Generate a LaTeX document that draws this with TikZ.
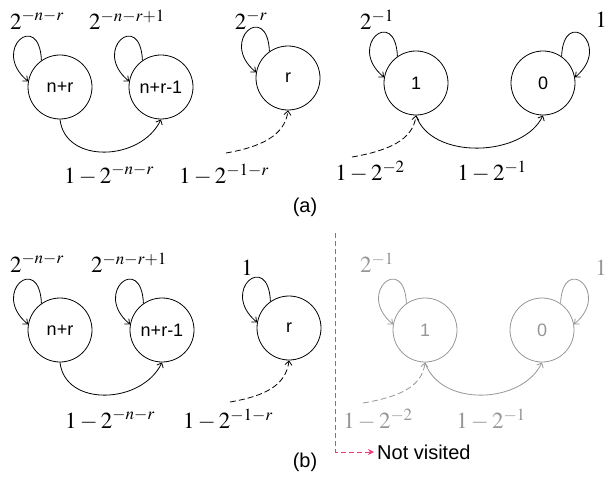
\documentclass[tikz,border=0pt]{standalone}
\usepackage{mathptmx}
\usepackage[no-math]{fontspec}
\setmainfont{Liberation Sans}
\usetikzlibrary{arrows.meta}
\definecolor{pinkred}{RGB}{236,60,125}
\definecolor{fadegray}{RGB}{150,150,150}
\tikzset{
  state/.style={circle,draw,minimum size=64pt,inner sep=0pt,line width=0.8pt,font=\fontsize{18}{20}\selectfont},
  lbl/.style={inner sep=0pt,font=\fontsize{23}{27}\selectfont},
  captxt/.style={inner sep=0pt,font=\fontsize{20}{24}\selectfont},
  edge/.style={-{Straight Barb[length=4pt,width=7pt]},line width=0.8pt},
  dsh/.style={dash pattern=on 6pt off 3pt},
  faded/.style={draw=fadegray,text=fadegray},
  pinkline/.style={draw=pinkred,dash pattern=on 5pt off 3pt,line width=1pt,-{Stealth[length=6pt,width=6pt]}}
}
\begin{document}
\begin{tikzpicture}[x=1pt,y=-1pt]
\useasboundingbox (0,0) rectangle (607,481);
% ---------- (a) ----------
\node[state] (A1) at (60,87) {n+r};
\node[state] (A2) at (161,87) {n+r-1};
\node[state] (A3) at (288,78) {r};
\node[state] (A4) at (416,83) {1};
\node[state] (A5) at (543,83) {0};
\node[lbl] (la1) at (37,20) {$2^{-n-r}$};
\node[lbl] (la2) at (127,20) {$2^{-n-r+1}$};
\node[lbl] (la3) at (251,20) {$2^{-r}$};
\node[lbl] (la4) at (377,20) {$2^{-1}$};
\node[lbl] (la5) at (601,20) {$1$};
\node[lbl] (la6) at (109,175) {$1-2^{-n-r}$};
\node[lbl] (la7) at (224,175) {$1-2^{-1-r}$};
\node[lbl] (la8) at (370,172) {$1-2^{-2}$};
\node[lbl] (la9) at (492,172) {$1-2^{-1}$};
\node[captxt] (capa) at (305,207) {(a)};
\coordinate (da1) at (226,153);
\coordinate (da2) at (352,157);
\draw[edge] (A1.125) .. controls +(-2,-51) and +(-38,-32) .. (A1.170);
\draw[edge] (A2.125) .. controls +(-2,-51) and +(-38,-32) .. (A2.170);
\draw[edge] (A3.125) .. controls +(-2,-51) and +(-38,-32) .. (A3.170);
\draw[edge] (A4.125) .. controls +(-2,-51) and +(-38,-32) .. (A4.170);
\draw[edge] (A5.55) .. controls +(2,-51) and +(38,-32) .. (A5.10);
\draw[edge] (A1.270) .. controls +(5,45) and +(-20,42) .. (A2.270);
\draw[edge,dsh] (da1) .. controls +(35,-6) and +(-3,25) .. (A3.270);
\draw[edge,dsh] (da2) .. controls +(35,-6) and +(-3,25) .. (A4.270);
\draw[edge] (A4.270) .. controls +(15,45) and +(-20,42) .. (A5.270);
% ---------- (b) ----------
\node[state] (B1) at (60,330) {n+r};
\node[state] (B2) at (162,330) {n+r-1};
\node[state] (B3) at (289,328) {r};
\node[state,faded] (B4) at (425,330) {1};
\node[state,faded] (B5) at (542,330) {0};
\node[lbl] (lb1) at (37,263) {$2^{-n-r}$};
\node[lbl] (lb2) at (129,263) {$2^{-n-r+1}$};
\node[lbl] (lb3) at (247,268) {$1$};
\node[lbl,text=fadegray] (lb4) at (377,263) {$2^{-1}$};
\node[lbl,text=fadegray] (lb5) at (601,268) {$1$};
\node[lbl] (lb6) at (110,420) {$1-2^{-n-r}$};
\node[lbl] (lb7) at (228,420) {$1-2^{-1-r}$};
\node[lbl,text=fadegray] (lb8) at (378,420) {$1-2^{-2}$};
\node[lbl,text=fadegray] (lb9) at (491,420) {$1-2^{-1}$};
\node[captxt] (capb) at (305,462) {(b)};
\coordinate (db1) at (230,402);
\coordinate (db2) at (363,403);
\draw[edge] (B1.125) .. controls +(-2,-51) and +(-38,-32) .. (B1.170);
\draw[edge] (B2.125) .. controls +(-2,-51) and +(-38,-32) .. (B2.170);
\draw[edge] (B3.125) .. controls +(-2,-51) and +(-38,-32) .. (B3.170);
\draw[edge,fadegray] (B4.125) .. controls +(-2,-51) and +(-38,-32) .. (B4.170);
\draw[edge,fadegray] (B5.55) .. controls +(2,-51) and +(38,-32) .. (B5.10);
\draw[edge] (B1.270) .. controls +(5,45) and +(-20,42) .. (B2.270);
\draw[edge,dsh] (db1) .. controls +(35,-6) and +(-3,25) .. (B3.270);
\draw[edge,dsh,fadegray] (db2) .. controls +(35,-6) and +(-3,25) .. (B4.270);
\draw[edge,fadegray] (B4.270) .. controls +(15,45) and +(-20,42) .. (B5.270);
% ---------- not visited ----------
\coordinate (ptop) at (335.5,233);
\node[captxt,anchor=west,inner sep=3pt] (nv) at (374,452) {Not visited};
\draw[pinkline] (ptop) |- (nv.west);
\end{tikzpicture}
\end{document}
